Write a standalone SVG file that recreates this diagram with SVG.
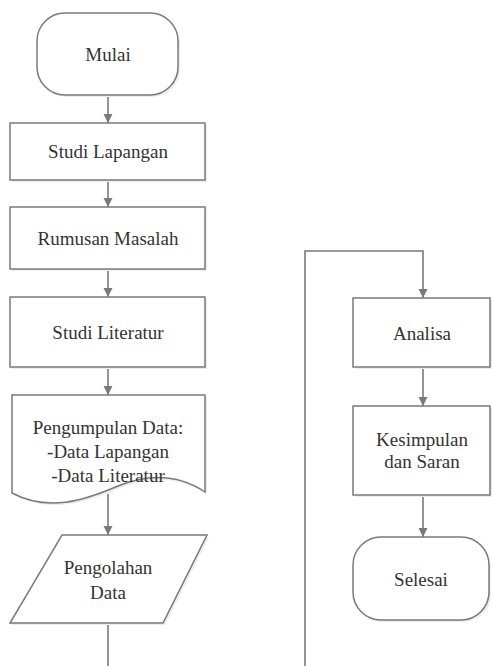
<svg xmlns="http://www.w3.org/2000/svg" width="492" height="666" viewBox="0 0 492 666">
<defs>
<style>
.shape{fill:#ffffff;stroke:#7a7a7a;stroke-width:1.5}
.shadow{fill:#ebebeb;stroke:none}
.lbl{font-family:'Liberation Serif','DejaVu Serif','Times New Roman',serif;font-size:19px;fill:#333333;text-anchor:middle}
.conn{fill:none;stroke:#7a7a7a;stroke-width:1.6}
</style>
<marker id="arr" markerUnits="userSpaceOnUse" markerWidth="10" markerHeight="10" refX="9" refY="5" orient="auto">
<path d="M0,0.5 L9,5 L0,9.5 z" fill="#7a7a7a"/>
</marker>
</defs>
<rect width="492" height="666" fill="#ffffff"/>
<g id="connectors">
<line class="conn" x1="108" y1="95" x2="108" y2="123" marker-end="url(#arr)"/>
<line class="conn" x1="108" y1="180" x2="108" y2="207" marker-end="url(#arr)"/>
<line class="conn" x1="108" y1="269" x2="108" y2="297" marker-end="url(#arr)"/>
<line class="conn" x1="108" y1="367" x2="108" y2="395" marker-end="url(#arr)"/>
<line class="conn" x1="108" y1="494" x2="108" y2="535" marker-end="url(#arr)"/>
<line class="conn" x1="108" y1="623" x2="108" y2="666"/>
<polyline class="conn" points="305,666 305,251 423,251 423,298" marker-end="url(#arr)"/>
<line class="conn" x1="423" y1="367" x2="423" y2="406" marker-end="url(#arr)"/>
<line class="conn" x1="423" y1="495" x2="423" y2="537" marker-end="url(#arr)"/>
</g>
<g id="mulai">
<rect class="shadow" x="39" y="15" width="141" height="82" rx="28" ry="28"/>
<rect class="shape" x="37" y="13" width="141" height="82" rx="28" ry="28"/>
<text class="lbl" x="108" y="61" font-family="Liberation Serif, serif">Mulai</text>
</g>
<g id="studi-lapangan">
<rect class="shadow" x="12" y="125" width="195" height="57"/>
<rect class="shape" x="10" y="123" width="195" height="57"/>
<text class="lbl" x="108" y="158">Studi Lapangan</text>
</g>
<g id="rumusan-masalah">
<rect class="shadow" x="12" y="209" width="195" height="62"/>
<rect class="shape" x="10" y="207" width="195" height="62"/>
<text class="lbl" x="108" y="245">Rumusan Masalah</text>
</g>
<g id="studi-literatur">
<rect class="shadow" x="12" y="299" width="195" height="70"/>
<rect class="shape" x="10" y="297" width="195" height="70"/>
<text class="lbl" x="108" y="339">Studi Literatur</text>
</g>
<g id="pengumpulan-data">
<path class="shadow" d="M14,397 H207 V494 C180,476 150,476 120,488 C85,503 50,514 14,495 Z"/>
<path class="shape" d="M12,395 H205 V492 C178,474 148,474 118,486 C83,501 48,512 12,493 Z"/>
<text class="lbl" x="108" y="434">Pengumpulan Data:</text>
<text class="lbl" x="108" y="458">-Data Lapangan</text>
<text class="lbl" x="108" y="482">-Data Literatur</text>
</g>
<g id="pengolahan-data">
<polygon class="shadow" points="64,537 209,537 165,625 12,625"/>
<polygon class="shape" points="62,535 207,535 163,623 10,623"/>
<text class="lbl" x="108" y="574">Pengolahan</text>
<text class="lbl" x="108" y="599">Data</text>
</g>
<g id="analisa">
<rect class="shadow" x="355" y="300" width="137" height="69"/>
<rect class="shape" x="353" y="298" width="137" height="69"/>
<text class="lbl" x="422" y="340">Analisa</text>
</g>
<g id="kesimpulan">
<rect class="shadow" x="355" y="408" width="137" height="89"/>
<rect class="shape" x="353" y="406" width="137" height="89"/>
<text class="lbl" x="422" y="446">Kesimpulan</text>
<text class="lbl" x="422" y="468">dan Saran</text>
</g>
<g id="selesai">
<rect class="shadow" x="355" y="539" width="136" height="83" rx="28" ry="28"/>
<rect class="shape" x="353" y="537" width="136" height="83" rx="28" ry="28"/>
<text class="lbl" x="421" y="586">Selesai</text>
</g>
</svg>
